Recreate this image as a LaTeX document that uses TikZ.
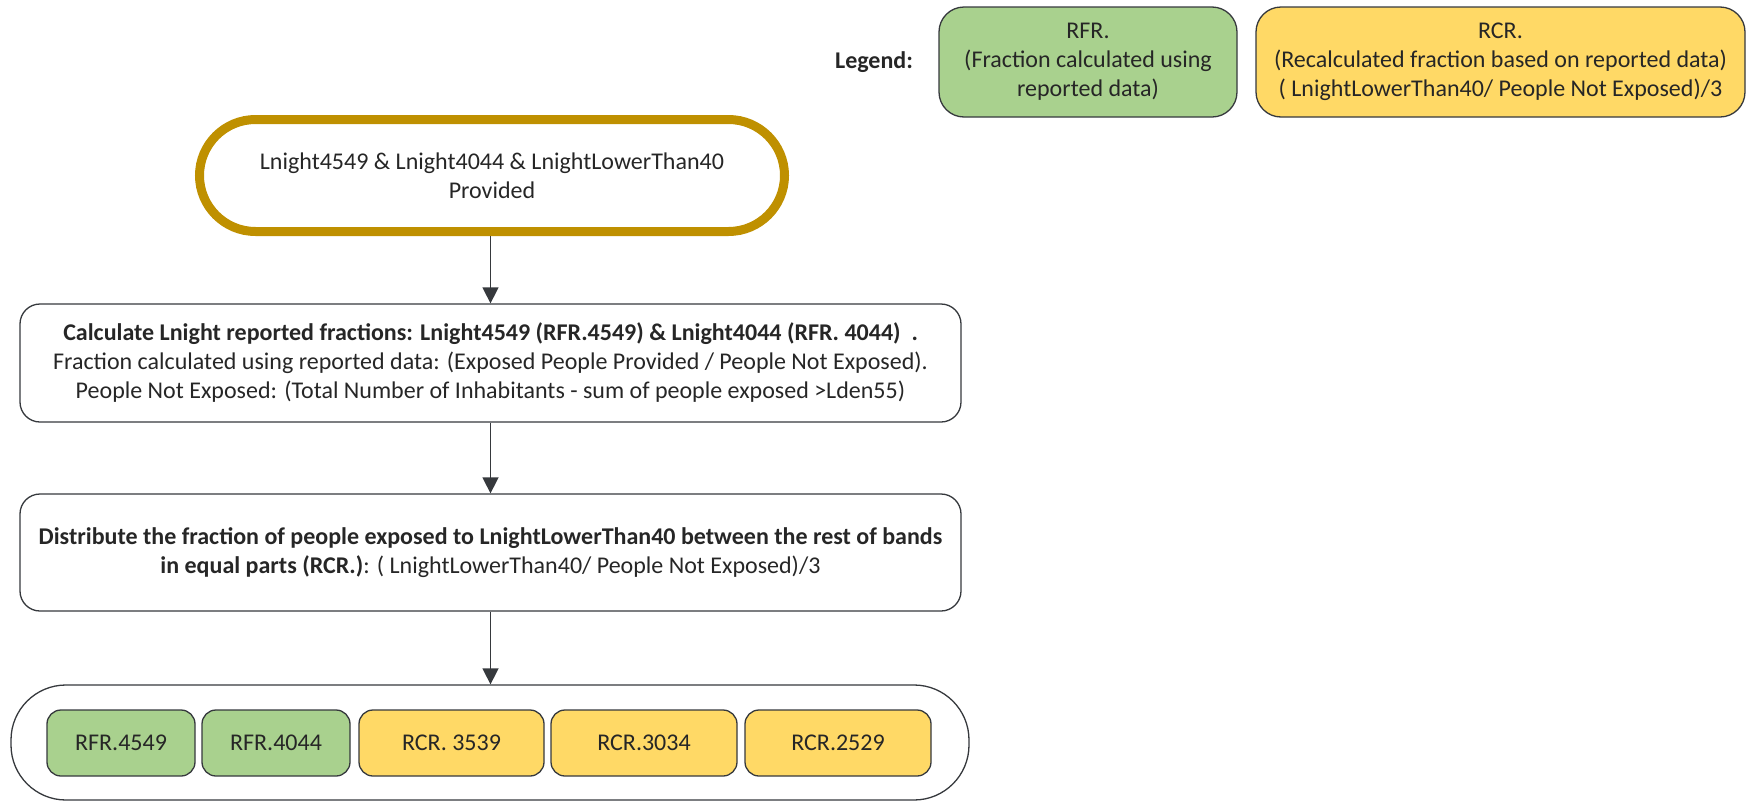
\documentclass[tikz,border=0pt]{standalone}
\usepackage{fontspec}
\setmainfont{Carlito}
\usetikzlibrary{arrows.meta}
\definecolor{goldline}{HTML}{BF9000}
\definecolor{okgreen}{HTML}{A9D18E}
\definecolor{okyellow}{HTML}{FFD966}
\definecolor{edge}{HTML}{36393D}
\definecolor{ink}{HTML}{262626}
\tikzset{
  txt/.style={font=\fontsize{24}{29}\selectfont, text=ink, align=center},
  box/.style={txt, draw=edge, line width=1.3pt, inner sep=0pt, rounded corners=20pt},
  terminal/.style={txt, draw=goldline, line width=9pt, inner sep=0pt, rounded corners=56pt},
  band/.style={box, rounded corners=14pt, minimum height=66pt},
  greenband/.style={band, fill=okgreen},
  yellowband/.style={band, fill=okyellow},
  flow/.style={draw=edge, line width=1.5pt, -{Triangle[length=16pt,width=16pt]}},
}
\begin{document}
\begin{tikzpicture}[x=1pt,y=-1pt]
\useasboundingbox (0,0) rectangle (1746,801);

% legend
\node[txt, font=\bfseries\fontsize{24}{29}\selectfont] (legend) at (874,62) {Legend:};
\node[box, fill=okgreen, rounded corners=25pt, minimum width=298pt, minimum height=110pt] (lgreen) at (1088,62)
  {RFR.\\(Fraction calculated using\\reported data)};
\node[box, fill=okyellow, rounded corners=25pt, minimum width=489pt, minimum height=110pt] (lyellow) at (1500.5,62)
  {RCR.\\(Recalculated fraction based on reported data)\\( LnightLowerThan40/ People Not Exposed)/3};

% flow
\node[terminal, minimum width=585pt, minimum height=112pt] (start) at (492,175.5)
  {Lnight4549 \& Lnight4044 \& LnightLowerThan40\\Provided};
\node[box, minimum width=941pt, minimum height=118pt] (calc) at (490.5,363)
  {\textbf{Calculate Lnight reported fractions: Lnight4549 (RFR.4549) \& Lnight4044 (RFR. 4044) \ .}\\
   Fraction calculated using reported data: (Exposed People Provided / People Not Exposed).\\
   People Not Exposed: (Total Number of Inhabitants - sum of people exposed >Lden55)};
\node[box, minimum width=941pt, minimum height=117pt] (dist) at (490.5,552.5)
  {\textbf{Distribute the fraction of people exposed to LnightLowerThan40 between the rest of bands}\\
   \textbf{in equal parts (RCR.)}: ( LnightLowerThan40/ People Not Exposed)/3};
\node[box, rounded corners=55pt, minimum width=958pt, minimum height=115pt] (result) at (490,742.5) {};

% bands inside the result container
\node[greenband, minimum width=148pt] (b1) at (121,743) {RFR.4549};
\node[greenband, minimum width=148pt] (b2) at (276,743) {RFR.4044};
\node[yellowband, minimum width=185pt] (b3) at (451.5,743) {RCR. 3539};
\node[yellowband, minimum width=186pt] (b4) at (644,743) {RCR.3034};
\node[yellowband, minimum width=186pt] (b5) at (838,743) {RCR.2529};

\draw[flow] (start.south -| calc.north) -- (calc.north);
\draw[flow] (calc.south) -- (dist.north);
\draw[flow] (dist.south) -- (dist.south |- result.north);
\end{tikzpicture}
\end{document}
